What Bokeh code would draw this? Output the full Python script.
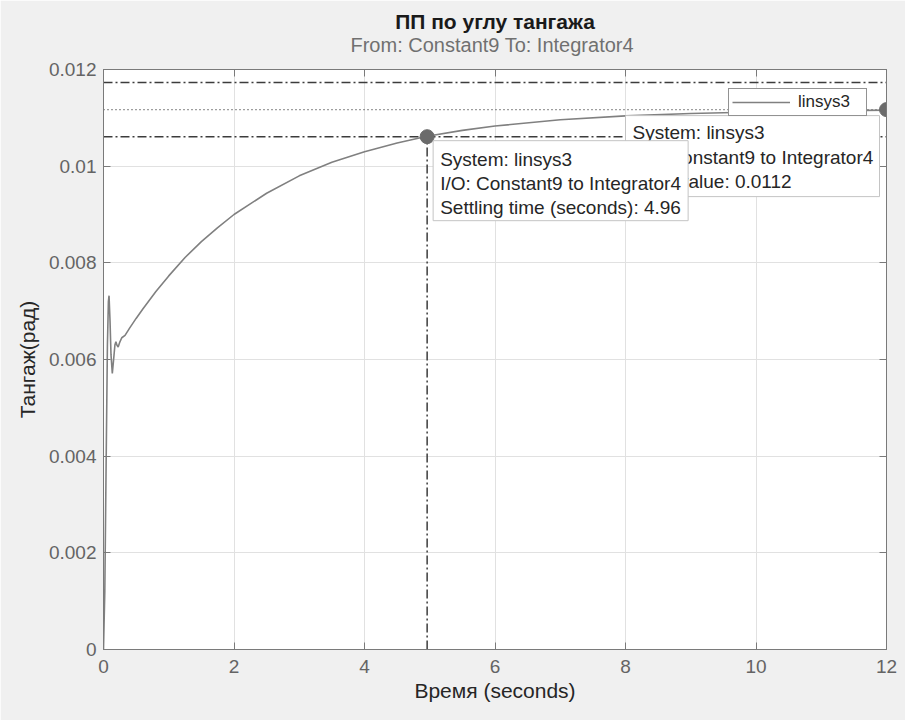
from bokeh.plotting import figure
from bokeh.models import (Range1d, FixedTicker, LinearAxis, Title, Label,
                          BoxAnnotation, Span, Legend, LegendItem)
from bokeh.embed import file_html
from bokeh.resources import INLINE

FONT = "Liberation Sans"

# ---- data ----
time_s = [0, 0.02, 0.04, 0.06, 0.075, 0.085, 0.10, 0.115, 0.135, 0.155, 0.175,
          0.19, 0.205, 0.225, 0.25, 0.28, 0.33, 0.4, 0.5, 0.6, 0.8, 1.0, 1.25,
          1.5, 1.75, 2.0, 2.5, 3.0, 3.5, 4.0, 4.5, 4.96, 5.5, 6.0, 7.0, 8.0,
          9.0, 10.0, 11.0, 12.0]
pitch_rad = [0, 0.0012, 0.0038, 0.0063, 0.0072, 0.00732, 0.0068, 0.0061,
             0.00571, 0.0060, 0.0063, 0.00637, 0.0063, 0.00626, 0.00636,
             0.00645, 0.0065, 0.00665, 0.00685, 0.00704, 0.0074, 0.00773,
             0.00811, 0.00844, 0.00873, 0.009, 0.00944, 0.0098, 0.01008,
             0.0103, 0.01048, 0.01062, 0.01074, 0.01083, 0.01096, 0.01104,
             0.01109, 0.01112, 0.01114, 0.01116]
final_value = 0.01117
final_time = 12
settling_time = 4.96
settling_band = [0.01061, 0.01173]

x_ticks = [0, 2, 4, 6, 8, 10, 12]
x_tick_labels = ["0", "2", "4", "6", "8", "10", "12"]
y_ticks = [0, 0.002, 0.004, 0.006, 0.008, 0.01, 0.012]
y_tick_labels = ["0", "0.002", "0.004", "0.006", "0.008", "0.01", "0.012"]

title_text = "ПП по углу тангажа"
subtitle_text = "From: Constant9  To: Integrator4"
x_label = "Время (seconds)"
y_label = "Тангаж(рад)"
legend_label = "linsys3"
tip_settle = ["System: linsys3", "I/O: Constant9 to Integrator4",
              "Settling time (seconds): 4.96"]
tip_final = ["System: linsys3", "I/O: Constant9 to Integrator4",
             "Final value: 0.0112"]

# ---- styling ----
FRAME_W, FRAME_H = 783, 580
AX = "#7a7a7a"
TICK_TXT = "#646464"
DARK = "#262626"
CURVE = "#808080"
MARK = "#6b6b6b"
REF = "#3c3c3c"

p = figure(frame_width=FRAME_W, frame_height=FRAME_H,
           x_range=Range1d(0, 12), y_range=Range1d(0, 0.012),
           output_backend="svg", toolbar_location=None, title_location=None,
           min_border_left=103, min_border_right=19, min_border_top=69,
           min_border_bottom=71)
p.border_fill_color = "#f0f0f0"
p.background_fill_color = "white"
p.outline_line_color = AX

for ax, ticks, labels in ((p.xaxis[0], x_ticks, x_tick_labels),
                          (p.yaxis[0], y_ticks, y_tick_labels)):
    ax.ticker = FixedTicker(ticks=ticks)
    ax.major_label_overrides = dict(zip(ticks, labels))
    ax.major_tick_in = 7
    ax.major_tick_out = 0
    ax.minor_tick_line_color = None
    ax.axis_line_color = AX
    ax.major_tick_line_color = AX
    ax.major_label_text_font = FONT
    ax.major_label_text_font_size = "19px"
    ax.major_label_text_color = TICK_TXT
    ax.axis_label_text_font = FONT
    ax.axis_label_text_font_size = "21px"
    ax.axis_label_text_font_style = "normal"
    ax.axis_label_text_color = DARK

p.xaxis.axis_label = x_label
p.yaxis.axis_label = y_label
p.xaxis.major_label_standoff = 10
p.xaxis.axis_label_standoff = 3
p.yaxis.major_label_standoff = 7
p.yaxis.axis_label_standoff = 7

for place, ticks in (("above", x_ticks), ("right", y_ticks)):
    a = LinearAxis(ticker=FixedTicker(ticks=ticks), major_tick_in=7,
                   major_tick_out=0, minor_tick_line_color=None,
                   axis_line_color=AX, major_tick_line_color=AX,
                   major_label_text_font_size="0px", major_label_text_alpha=0,
                   major_label_standoff=0)
    p.add_layout(a, place)

p.add_layout(Title(text=subtitle_text, align="center", text_font=FONT,
                   text_font_size="20px", text_font_style="normal",
                   text_color="#707070", standoff=28), "above")
p.add_layout(Title(text=title_text, align="center", text_font=FONT,
                   text_font_size="21px", text_font_style="bold",
                   text_color="#1a1a1a", standoff=-31), "above")

p.grid.grid_line_color = "#e1e1e1"
p.grid.grid_line_width = 1

# reference lines
for lvl in settling_band:
    p.add_layout(Span(location=lvl, dimension="width", line_color=REF,
                      line_width=1.5, line_dash="9 3 2 3", level="underlay"))
p.add_layout(Span(location=final_value, dimension="width", line_color=REF,
                  line_width=1.2, line_dash="1 3", level="underlay"))

p.segment(x0=[settling_time], y0=[0], x1=[settling_time], y1=[settling_band[0]],
          line_color=REF, line_width=1.5, line_dash="9 3 2 3")

curve = p.line(time_s, pitch_rad, line_color=CURVE, line_width=1.6)

p.scatter([settling_time, final_time], [settling_band[0], final_value],
          size=14, fill_color=MARK, line_color=MARK)

# data tips (positions in pixels relative to their anchors)
sx = 12 / FRAME_W
sy = 0.012 / FRAME_H


def datatip(ax_, ay_, left, right, top, bottom, lines, tx, ty0, dy):
    p.add_layout(BoxAnnotation(left=ax_ + left * sx, right=ax_ + right * sx,
                               top=ay_ - top * sy, bottom=ay_ - bottom * sy,
                               fill_color="white", fill_alpha=1.0,
                               line_color="#c4c4c4", line_alpha=1.0,
                               line_width=1, line_dash="solid"))
    for i, t in enumerate(lines):
        p.add_layout(Label(x=ax_ + tx * sx, y=ay_ - (ty0 + dy * i) * sy,
                           text=t, text_font=FONT, text_font_size="19px",
                           text_color=DARK, text_align="left",
                           text_baseline="middle"))


datatip(final_time, final_value, -261, -7, 6, 87, tip_final, -254, 23, 24.5)
datatip(settling_time, settling_band[0], 6, 261, 4, 84, tip_settle, 13, 23, 24)

legend = Legend(items=[LegendItem(label=legend_label, renderers=[curve])],
                location="top_right", margin=19, padding=3, spacing=0,
                glyph_width=58, glyph_height=18, label_height=18,
                label_standoff=8, label_width=65,
                border_line_color=DARK, border_line_width=1,
                background_fill_color="white", background_fill_alpha=1.0,
                label_text_font=FONT, label_text_font_size="17px",
                label_text_color=DARK)
p.add_layout(legend)

open("out.html", "w").write(file_html(p, INLINE))
